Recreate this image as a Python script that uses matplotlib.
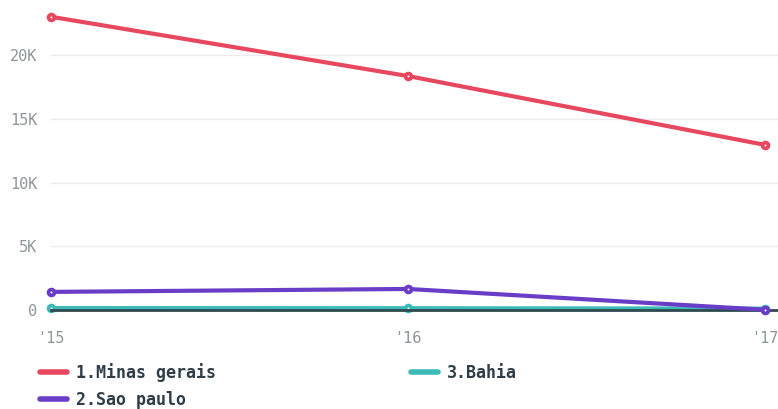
import matplotlib
matplotlib.use('Agg')
import matplotlib.pyplot as plt

years = [2015, 2016, 2017]
year_labels = ["'15", "'16", "'17"]
minas_gerais = [23000, 18350, 12950]
sao_paulo = [1420, 1650, 20]
bahia = [150, 140, 110]

y_ticks = [0, 5000, 10000, 15000, 20000]
y_labels = ['0', '5K', '10K', '15K', '20K']

fig = plt.figure(figsize=(7.78, 4.09), dpi=100)
ax = fig.add_axes([51 / 778, 99 / 409, 727 / 778, 300 / 409])

mk = dict(marker='o', markersize=4.2, markeredgewidth=2.7, markerfacecolor='white',
          clip_on=False, solid_capstyle='round')

ax.plot(years, bahia, color='#3dbab8', linewidth=3, markeredgecolor='#3dbab8',
        label='3.Bahia', zorder=3, **mk)
ax.plot(years, sao_paulo, color='#6a3dc8', linewidth=3, markeredgecolor='#6a3dc8',
        label='2.Sao paulo', zorder=4, **mk)
ax.plot(years, minas_gerais, color='#e8485f', linewidth=3, markeredgecolor='#e8485f',
        label='1.Minas gerais', zorder=5, **mk)
ax.axhline(0, color='#2e4a4f', linewidth=2, zorder=3.5, clip_on=False)

ax.set_xlim(2015, 2017 + 13 / 357)
ax.set_ylim(0, 23530)
ax.set_xticks(years)
ax.set_xticklabels(year_labels)
ax.set_yticks(y_ticks)
ax.set_yticklabels(y_labels)

for s in ax.spines.values():
    s.set_visible(False)
ax.grid(axis='y', color='#ebebeb', linewidth=1)
ax.set_axisbelow(True)
ax.tick_params(length=0, colors='#8c969a', labelsize=11)
ax.tick_params(axis='y', pad=10)
ax.tick_params(axis='x', pad=15)
for lbl in ax.get_xticklabels() + ax.get_yticklabels():
    lbl.set_family('DejaVu Sans Mono')

handles, labels = ax.get_legend_handles_labels()
order = [2, 1, 0]
leg = fig.legend([handles[i] for i in order], [labels[i] for i in order],
                 loc='upper left', bbox_to_anchor=(25 / 778, 1 - 348 / 409),
                 ncol=2, frameon=False, handlelength=1.6, handletextpad=0.55,
                 columnspacing=11.7, labelspacing=0.55,
                 prop={'family': 'DejaVu Sans Mono', 'weight': 'bold', 'size': 12})
for t in leg.get_texts():
    t.set_color('#2f3e46')
for h in leg.legend_handles:
    h.set_marker('')
    h.set_linewidth(4)

fig.savefig('out.png', dpi=100)
